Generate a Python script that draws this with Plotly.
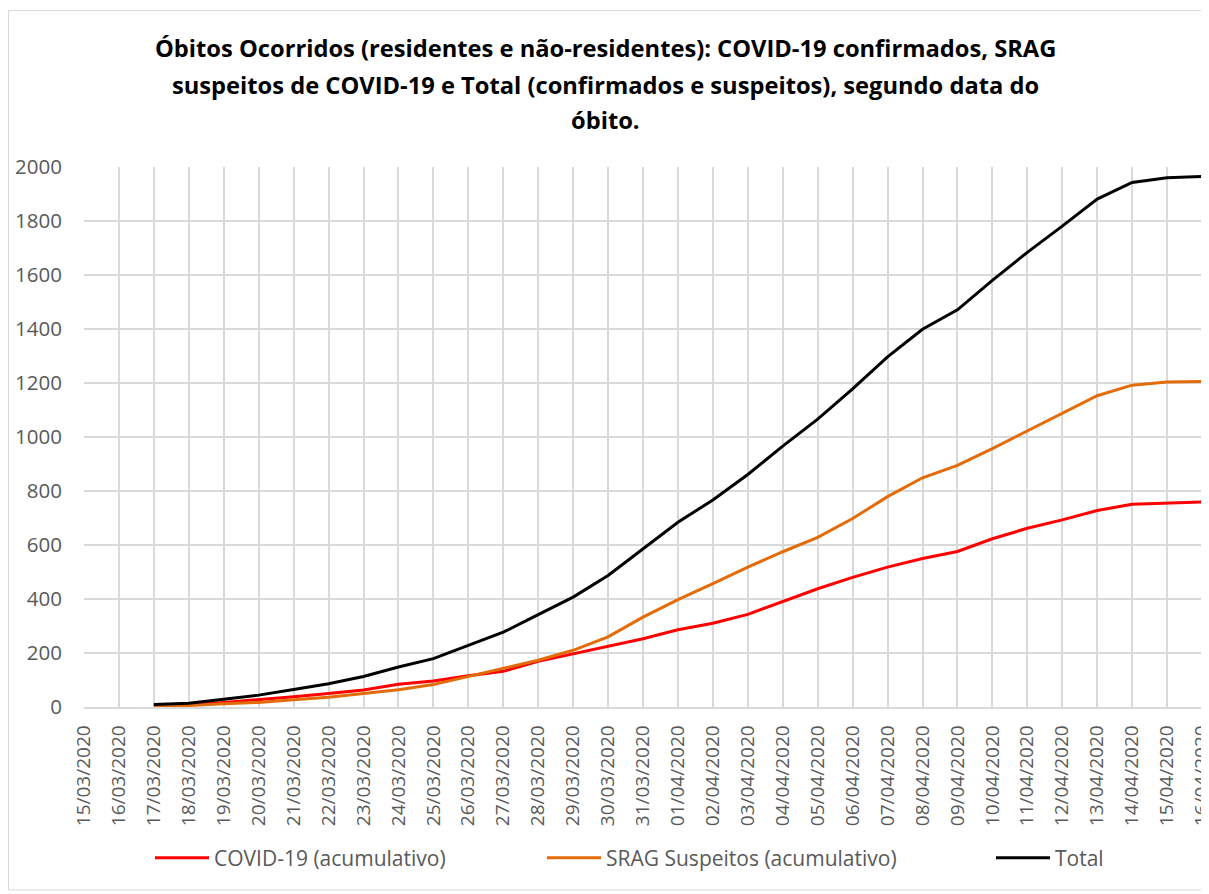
import plotly.graph_objects as go

dates = ["15/03/2020", "16/03/2020", "17/03/2020", "18/03/2020", "19/03/2020", "20/03/2020",
         "21/03/2020", "22/03/2020", "23/03/2020", "24/03/2020", "25/03/2020", "26/03/2020",
         "27/03/2020", "28/03/2020", "29/03/2020", "30/03/2020", "31/03/2020", "01/04/2020",
         "02/04/2020", "03/04/2020", "04/04/2020", "05/04/2020", "06/04/2020", "07/04/2020",
         "08/04/2020", "09/04/2020", "10/04/2020", "11/04/2020", "12/04/2020", "13/04/2020",
         "14/04/2020", "15/04/2020", "16/04/2020"]

covid = [None, None, 5, 8, 17, 27, 38, 50, 63, 84, 96, 116, 132, 169, 197, 227, 253, 286,
         310, 343, 391, 438, 480, 518, 550, 576, 623, 662, 693, 728, 751, 756, 759]
srag = [None, None, 4, 6, 12, 17, 27, 36, 50, 64, 83, 113, 145, 173, 210, 260, 333, 398,
        457, 518, 575, 628, 698, 779, 849, 895, 957, 1022, 1088, 1153, 1192, 1204, 1206]
total = [None, None, 9, 14, 29, 44, 65, 86, 113, 148, 179, 229, 277, 342, 407, 487, 586, 684,
         767, 861, 966, 1066, 1178, 1297, 1399, 1471, 1580, 1684, 1781, 1881, 1943, 1960, 1965]

series_names = ["COVID-19 (acumulativo)", "SRAG Suspeitos (acumulativo)", "Total"]

title_lines = ["Óbitos Ocorridos (residentes e não-residentes): COVID-19 confirmados, SRAG",
               "suspeitos de COVID-19 e Total (confirmados e suspeitos), segundo data do",
               "óbito."]

FONT = "Open Sans"
GREY = "#595959"
GRID = "#d9d9d9"

# page body has an 8px margin, so the figure is shifted by 8px
OFF = 8
W, H = 1209 - OFF, 894 - OFF
# plot area in screen pixels
PX0, PX1, PY0, PY1 = 84, 1202, 167, 707
L = PX0 - OFF
R = W - (PX1 - OFF)
T = PY0 - OFF
B = H - (PY1 - OFF)
pw, ph = PX1 - PX0, PY1 - PY0


def sx(xpix):
    return (xpix - PX0) / pw


def sy(ypix):
    return (PY1 - ypix) / ph


fig = go.Figure()
fig.add_trace(go.Scatter(x=dates, y=covid, mode="lines", name=series_names[0],
                         line=dict(color="#FF0000", width=3), legend="legend"))
fig.add_trace(go.Scatter(x=dates, y=srag, mode="lines", name=series_names[1],
                         line=dict(color="#E36C0A", width=3), legend="legend2"))
fig.add_trace(go.Scatter(x=dates, y=total, mode="lines", name=series_names[2],
                         line=dict(color="#000000", width=3), legend="legend3"))

annotations = []
for txt, yp in zip(title_lines, [48, 85, 120]):
    annotations.append(dict(text="<b>" + txt + "</b>", x=sx(605), y=sy(yp),
                            xref="paper", yref="paper", showarrow=False,
                            xanchor="center", yanchor="middle",
                            font=dict(family=FONT, size=23.7, color="#000000")))


def leg(xpix):
    return dict(orientation="h", x=sx(xpix), xanchor="left", y=sy(858), yanchor="middle",
                font=dict(family=FONT, size=21, color=GREY), itemwidth=54,
                bgcolor="rgba(0,0,0,0)")


fig.update_layout(
    width=W, height=H,
    margin=dict(l=L, r=R, t=T, b=B, autoexpand=False),
    paper_bgcolor="white", plot_bgcolor="white",
    font=dict(family=FONT, color=GREY, size=16),
    annotations=annotations,
    showlegend=True,
    legend=leg(150), legend2=leg(542), legend3=leg(991),
    shapes=[dict(type="rect", xref="paper", yref="paper",
                 x0=sx(8.5), x1=sx(1208), y0=sy(890), y1=sy(10.5),
                 line=dict(color=GRID, width=1), fillcolor="rgba(0,0,0,0)", layer="below")],
    xaxis=dict(type="category", range=[0, len(dates) - 1], tickangle=-90,
               showgrid=True, gridcolor=GRID, gridwidth=1.5,
               showline=True, linecolor=GRID, linewidth=1.5, ticks="",
               ticklabelstandoff=9,
               tickfont=dict(family=FONT, size=19, color=GREY), fixedrange=True),
    yaxis=dict(range=[0, 2000], dtick=200, showgrid=True, gridcolor=GRID, gridwidth=1.5,
               zeroline=True, zerolinecolor=GRID, zerolinewidth=1.5, ticks="",
               ticklabelstandoff=21,
               tickfont=dict(family=FONT, size=20.5, color=GREY)),
)

fig.write_html("out.html")
